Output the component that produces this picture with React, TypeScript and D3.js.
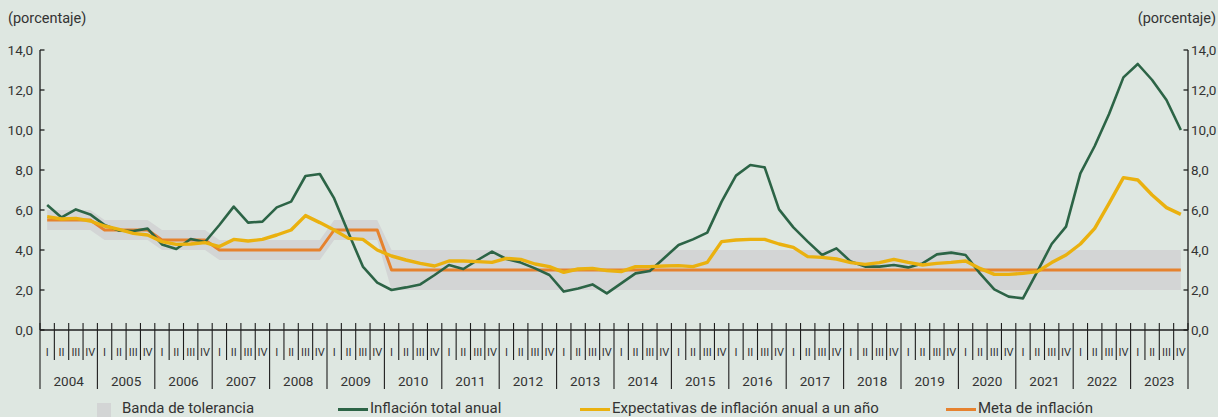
import React from "react";
import * as d3 from "d3";

const years = [2004, 2005, 2006, 2007, 2008, 2009, 2010, 2011, 2012, 2013, 2014, 2015, 2016, 2017, 2018, 2019, 2020, 2021, 2022, 2023];
const quarterLabels = ["I", "II", "III", "IV"];
const yTicks = [0, 2, 4, 6, 8, 10, 12, 14];

const inflacionTotal = [
  6.25, 5.63, 6.03, 5.78,
  5.25, 4.97, 4.95, 5.07,
  4.28, 4.05, 4.55, 4.4,
  5.25, 6.17, 5.37, 5.42,
  6.13, 6.42, 7.7, 7.8,
  6.58, 4.85, 3.17, 2.37,
  2.0, 2.13, 2.28, 2.75,
  3.25, 3.05, 3.5, 3.92,
  3.55, 3.37, 3.08, 2.75,
  1.92, 2.08, 2.28, 1.83,
  2.33, 2.83, 2.95, 3.6,
  4.25, 4.53, 4.87, 6.42,
  7.72, 8.25, 8.13, 6.03,
  5.13, 4.42, 3.75, 4.08,
  3.42, 3.17, 3.17, 3.25,
  3.13, 3.33, 3.78, 3.87,
  3.75, 2.83, 2.03, 1.67,
  1.58, 2.92, 4.3, 5.17,
  7.83, 9.2, 10.8, 12.63,
  13.3, 12.5, 11.5, 10.0,
];

const expectativas = [
  5.67, 5.55, 5.58, 5.45,
  5.2, 5.03, 4.83, 4.75,
  4.42, 4.28, 4.3, 4.37,
  4.17, 4.53, 4.45, 4.53,
  4.75, 5.0, 5.72, 5.37,
  5.0, 4.58, 4.53, 4.0,
  3.7, 3.5, 3.33, 3.2,
  3.45, 3.45, 3.42, 3.38,
  3.58, 3.53, 3.3, 3.17,
  2.88, 3.05, 3.08, 2.97,
  2.92, 3.17, 3.17, 3.2,
  3.22, 3.17, 3.38, 4.42,
  4.5, 4.53, 4.53, 4.3,
  4.13, 3.67, 3.63, 3.55,
  3.37, 3.28, 3.37, 3.53,
  3.38, 3.25, 3.33, 3.38,
  3.45, 3.08, 2.78, 2.78,
  2.83, 2.92, 3.37, 3.75,
  4.3, 5.08, 6.33, 7.62,
  7.5, 6.75, 6.12, 5.78,
];

const metaPorAnio = [5.5, 5.0, 4.5, 4.0, 4.0, 5.0, 3, 3, 3, 3, 3, 3, 3, 3, 3, 3, 3, 3, 3, 3];
const bandaInfPorAnio = [5.0, 4.5, 4.0, 3.5, 3.5, 4.5, 2, 2, 2, 2, 2, 2, 2, 2, 2, 2, 2, 2, 2, 2];
const bandaSupPorAnio = [6.0, 5.5, 5.0, 4.5, 4.5, 5.5, 4, 4, 4, 4, 4, 4, 4, 4, 4, 4, 4, 4, 4, 4];

const W = 1218;
const H = 417;
const FONT = "Roboto, 'Noto Sans', sans-serif";
const BG = "#dee7e1";
const GREEN = "#2c6446";
const YELLOW = "#eab10f";
const ORANGE = "#e6822e";
const BAND = "#d3d5d5";
const AXIS = "#1e1e1e";
const TEXT = "#333";

export default function App() {
  const nQ = years.length * 4;
  const x = d3.scaleLinear().domain([0, nQ]).range([40, 1188]);
  const y = d3.scaleLinear().domain([0, 14]).range([330, 50]);
  const xc = (i: number) => x(i + 0.5);

  const quarters = d3.range(nQ);
  const meta = quarters.map((i) => metaPorAnio[Math.floor(i / 4)]);
  const bLow = quarters.map((i) => bandaInfPorAnio[Math.floor(i / 4)]);
  const bHigh = quarters.map((i) => bandaSupPorAnio[Math.floor(i / 4)]);

  const area = d3
    .area<number>()
    .x((i) => xc(i))
    .y0((i) => y(bLow[i]))
    .y1((i) => y(bHigh[i]));

  const line = (vals: number[]) =>
    d3
      .line<number>()
      .x((_, i) => xc(i))
      .y((v) => y(v))(vals) || "";

  const fmt = (v: number) => d3.format(".1f")(v).replace(".", ",");

  return (
    <svg
      width={W}
      height={H}
      style={{ position: "absolute", left: 0, top: 0, background: BG }}
      fontFamily={FONT}
    >
      <rect x={0} y={0} width={W} height={H} fill={BG} />
      <text x={8} y={23} fontSize={14.5} fill={TEXT}>(porcentaje)</text>
      <text x={1216} y={23} fontSize={14.5} fill={TEXT} textAnchor="end">(porcentaje)</text>

      <path d={area(quarters) || ""} fill={BAND} />
      <path d={line(meta)} fill="none" stroke={ORANGE} strokeWidth={3} strokeLinejoin="round" />
      <path d={line(inflacionTotal)} fill="none" stroke={GREEN} strokeWidth={2.6} strokeLinejoin="round" />
      <path d={line(expectativas)} fill="none" stroke={YELLOW} strokeWidth={3.4} strokeLinejoin="round" />

      {/* Left axis */}
      <line x1={40} x2={40} y1={y(14)} y2={y(0)} stroke={AXIS} strokeWidth={1.3} />
      {yTicks.map((t) => (
        <g key={"l" + t}>
          <line x1={40} x2={44.5} y1={y(t)} y2={y(t)} stroke={AXIS} strokeWidth={1.3} />
          <text x={33} y={y(t) + 4.5} fontSize={13.5} fill={TEXT} textAnchor="end">{fmt(t)}</text>
        </g>
      ))}
      {/* Right axis */}
      <line x1={1188} x2={1188} y1={y(14)} y2={y(0)} stroke={AXIS} strokeWidth={1.3} />
      {yTicks.map((t) => (
        <g key={"r" + t}>
          <line x1={1183.5} x2={1188} y1={y(t)} y2={y(t)} stroke={AXIS} strokeWidth={1.3} />
          <text x={1191} y={y(t) + 4.5} fontSize={13.5} fill={TEXT}>{fmt(t)}</text>
        </g>
      ))}

      {/* X axis */}
      <line x1={40} x2={1188} y1={330} y2={330} stroke={AXIS} strokeWidth={1.3} />
      {d3.range(nQ + 1).map((i) => (
        <line
          key={"qt" + i}
          x1={x(i)}
          x2={x(i)}
          y1={323}
          y2={i % 4 === 0 ? 389 : 360}
          stroke={AXIS}
          strokeWidth={1.1}
        />
      ))}
      {quarters.map((i) => (
        <text key={"ql" + i} x={xc(i)} y={356} fontSize={11} fill={TEXT} textAnchor="middle">
          {quarterLabels[i % 4]}
        </text>
      ))}
      {years.map((yr, k) => (
        <text key={"y" + yr} x={x(k * 4 + 2)} y={386} fontSize={13.5} fill={TEXT} textAnchor="middle">
          {yr}
        </text>
      ))}

      {/* Legend */}
      <rect x={97} y={403} width={14} height={14} fill={BAND} />
      <text x={122} y={413} fontSize={15} fill={TEXT}>Banda de tolerancia</text>
      <line x1={338} x2={368} y1={409.5} y2={409.5} stroke={GREEN} strokeWidth={3} />
      <text x={370} y={413} fontSize={15} fill={TEXT}>Inflación total anual</text>
      <line x1={580} x2={610} y1={409.5} y2={409.5} stroke={YELLOW} strokeWidth={3} />
      <text x={612} y={413} fontSize={15} fill={TEXT}>Expectativas de inflación anual a un año</text>
      <line x1={946} x2={976} y1={409.5} y2={409.5} stroke={ORANGE} strokeWidth={3} />
      <text x={978} y={413} fontSize={15} fill={TEXT}>Meta de inflación</text>
    </svg>
  );
}
